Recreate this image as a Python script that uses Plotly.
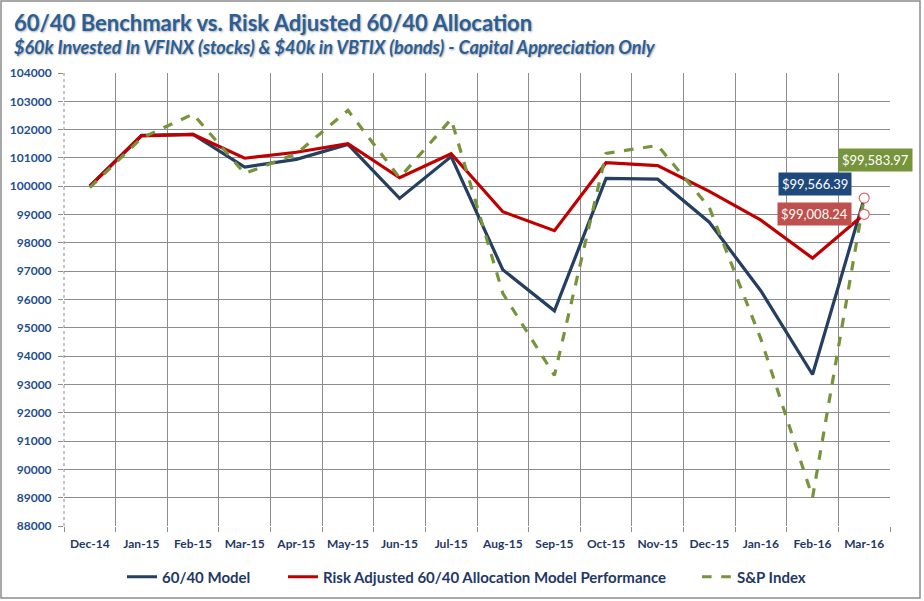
import plotly.graph_objects as go

months = ["Dec-14", "Jan-15", "Feb-15", "Mar-15", "Apr-15", "May-15", "Jun-15", "Jul-15",
          "Aug-15", "Sep-15", "Oct-15", "Nov-15", "Dec-15", "Jan-16", "Feb-16", "Mar-16"]
model_6040 = [100000, 101800, 101830, 100680, 100950, 101480, 99570, 101050,
              97050, 95600, 100280, 100250, 98730, 96300, 93350, 99566.39]
risk_adjusted = [100000, 101780, 101830, 100990, 101200, 101500, 100300, 101150,
                 99100, 98430, 100830, 100730, 99820, 98800, 97460, 99008.24]
sp_index = [99950, 101700, 102550, 100450, 101150, 102680, 100300, 102370,
            96220, 93320, 101160, 101440, 99250, 94600, 89010, 99583.97]
y_ticks = list(range(88000, 104001, 1000))
y_tick_text = [str(v) for v in y_ticks]

NAVY = "#243F60"
RED = "#C00000"
GREEN = "#77933C"
FONT = "Lato"
W, H = 924, 601
ML, MR, MT, MB = 64, 34, 73, 75
PW, PH = W - ML - MR, H - MT - MB

fig = go.Figure()
fig.add_trace(go.Scatter(x=months, y=model_6040, mode="lines", name="60/40 Model",
                         line=dict(color=NAVY, width=3.2), legend="legend"))
fig.add_trace(go.Scatter(x=months, y=risk_adjusted, mode="lines",
                         name="Risk Adjusted 60/40 Allocation Model Performance",
                         line=dict(color=RED, width=3.2), legend="legend2"))
fig.add_trace(go.Scatter(x=months, y=sp_index, mode="lines", name="S&P Index",
                         line=dict(color=GREEN, width=3.2, dash="dash"), legend="legend3"))
# end markers
fig.add_trace(go.Scatter(x=[months[-1], months[-1]], y=[sp_index[-1], risk_adjusted[-1]],
                         mode="markers", showlegend=False,
                         marker=dict(size=10, color="white", line=dict(color="#E06666", width=1.2))))

def px2paper_x(px):
    return (px - ML) / PW

def px2paper_y(py):
    return 1 - (py - MT) / PH

ann = []
ann.append(dict(x=px2paper_x(12), y=px2paper_y(22), xref="paper", yref="paper",
                text="<b>60/40 Benchmark vs. Risk Adjusted 60/40 Allocation</b>",
                showarrow=False, xanchor="left", yanchor="middle",
                font=dict(family=FONT, size=22, color="#2B5F97", shadow="1px 1px 2px #aaaaaa")))
ann.append(dict(x=px2paper_x(12), y=px2paper_y(47), xref="paper", yref="paper",
                text="<b><i>$60k Invested In VFINX (stocks) & $40k in VBTIX (bonds) - Capital Appreciation Only</i></b>",
                showarrow=False, xanchor="left", yanchor="middle",
                font=dict(family=FONT, size=18, color="#2B5F97", shadow="1px 1px 2px #aaaaaa")))

def val_label(yv, color, xs, ys):
    return dict(x=months[-1], y=yv, xref="x", yref="y", text=f"${yv:,.2f}",
                showarrow=False, xshift=xs, yshift=ys, bgcolor=color, borderpad=3,
                font=dict(family=FONT, size=13, color="white"))

ann.append(val_label(sp_index[-1], GREEN, 11, 38))
ann.append(val_label(model_6040[-1], "#1F497D", -49, 15))
ann.append(val_label(risk_adjusted[-1], "#C0504D", -50, 0))

shapes = [
    dict(type="rect", xref="paper", yref="paper",
         x0=px2paper_x(1), x1=px2paper_x(920), y0=px2paper_y(598), y1=px2paper_y(1),
         line=dict(color="#8c8c8c", width=1.5), layer="below"),
    dict(type="line", xref="paper", yref="paper", x0=0, x1=0, y0=0, y1=1,
         line=dict(color="#8c8c8c", width=1, dash="dot")),
]

leg_font = dict(family=FONT, size=15, color="#1F3864", weight="bold")
def leg(xpx):
    return dict(x=xpx / W, y=1 - 577 / H, xref="container", yref="container",
                xanchor="left", yanchor="middle",
                orientation="h", font=leg_font, bgcolor="rgba(0,0,0,0)", itemwidth=30)

fig.update_layout(
    width=W, height=H,
    margin=dict(l=ML, r=MR, t=MT, b=MB, autoexpand=False),
    paper_bgcolor="white", plot_bgcolor="white",
    font=dict(family=FONT),
    annotations=ann, shapes=shapes,
    legend=leg(122), legend2=leg(283), legend3=leg(697),
    xaxis=dict(type="category", categoryorder="array", categoryarray=months,
               range=[-0.5, 15.5], tickson="boundaries", showgrid=True,
               gridcolor="#8c8c8c", gridwidth=1, ticks="outside", ticklen=5,
               tickcolor="#8c8c8c", zeroline=False, showline=False, automargin=False,
               tickfont=dict(family=FONT, size=12, color="#1F3864", weight="bold"),
               ticklabelstandoff=9),
    yaxis=dict(range=[88000, 104000], tickvals=y_ticks, ticktext=y_tick_text, showgrid=True,
               gridcolor="#8c8c8c", gridwidth=1, ticks="outside", ticklen=5,
               tickcolor="#8c8c8c", zeroline=False, showline=False, automargin=False,
               ticklabelstandoff=4,
               tickfont=dict(family=FONT, size=12, color="#1F4E8C", weight="bold")),
)

fig.write_html("out.html", config={"displayModeBar": False},
               post_script="document.body.style.margin='0';")
